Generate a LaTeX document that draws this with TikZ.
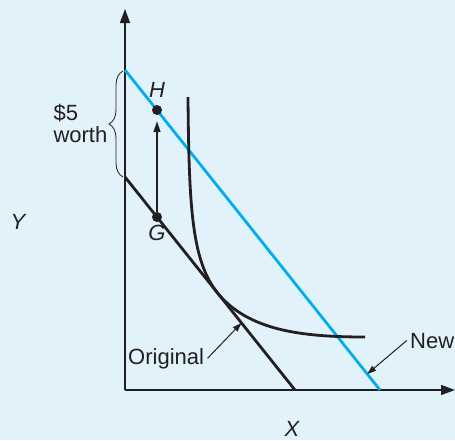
\documentclass[tikz,border=0pt]{standalone}
\usepackage{fontspec}
\setmainfont{Liberation Sans}
\usetikzlibrary{arrows.meta,positioning,calc,decorations.pathreplacing}
\definecolor{bgblue}{RGB}{225,242,251}
\definecolor{ink}{RGB}{35,31,32}
\definecolor{budgetblue}{RGB}{0,174,239}

\begin{document}
\begin{tikzpicture}[
  x=1pt,y=-1pt,
  axis/.style={draw=ink,line width=1.3pt,-{Triangle[length=14pt,width=10pt]}},
  budget/.style={draw=ink,line width=2.8pt},
  newbudget/.style={budget,draw=budgetblue},
  icurve/.style={draw=ink,line width=2.8pt},
  dot/.style={circle,fill=ink,inner sep=0pt,minimum size=10pt},
  lbl/.style={font=\fontsize{22}{22}\selectfont,text=ink},
  ptlbl/.style={lbl,font=\fontsize{22}{22}\selectfont\itshape},
  lead/.style={draw=ink,line width=1pt,-{Triangle[length=9pt,width=6pt]}},
  vec/.style={draw=ink,line width=1.2pt,-{Triangle[length=11pt,width=7pt]}}
]
% Background
\path[fill=bgblue,use as bounding box] (0,0) rectangle (455,440);

% Axes
\coordinate (O) at (125,390);
\coordinate (ytop) at (125,9);
\coordinate (xend) at (455,390);
\draw[axis] (O) -- (ytop);
\draw[axis] (O) -- (xend);
\node[ptlbl] (labY) at (18,222) {Y};
\node[ptlbl] (labX) at (292,429) {X};

% Budget lines
\coordinate (orgY) at (125,177);
\coordinate (orgX) at (295,390);
\coordinate (newY) at (125,70);
\coordinate (newX) at (380,390);
\draw[budget] (orgY) -- (orgX);
\draw[newbudget] (newY) -- (newX);

% Indifference curve
\coordinate (icTop) at (188,97);
\coordinate (icTan) at ($(orgY)!0.545!(orgX)$);
\coordinate (icEnd) at (365,337);
\draw[icurve] (icTop) .. controls (189,210) and (192,261) .. (icTan)
  .. controls (248,330) and (300,337) .. (icEnd);

% Points G and H
\node[dot] (ptH) at (157,110) {};
\node[dot] (ptG) at (157,217) {};
\node[ptlbl,above=3.8pt of ptH] (labH) {H};
\node[ptlbl,below=-1pt of ptG] (labG) {G};
\draw[vec,shorten >=6pt] (ptG) -- (ptH);

% $5 worth brace
\coordinate (brLo) at (123,177);
\coordinate (brHi) at (123,71);
\draw[ink,line width=0.8pt,decorate,decoration={brace,amplitude=14pt}] (brLo) -- (brHi);
\node[lbl,align=left,anchor=west] (worth) at (50,123) {\$5\\worth};

% Leaders
\node[lbl,anchor=base west] (orig) at (124.7,364) {Original};
\coordinate (origTip) at ($(orgY)!0.685!(orgX)$);
\draw[lead] (orig.east) -- (origTip);

\node[lbl,anchor=base west] (newlbl) at (406.7,348) {New};
\coordinate (newTip) at ($(newY)!0.95!(newX)$);
\draw[lead] (newlbl.west) -- (newTip);

\end{tikzpicture}
\end{document}
